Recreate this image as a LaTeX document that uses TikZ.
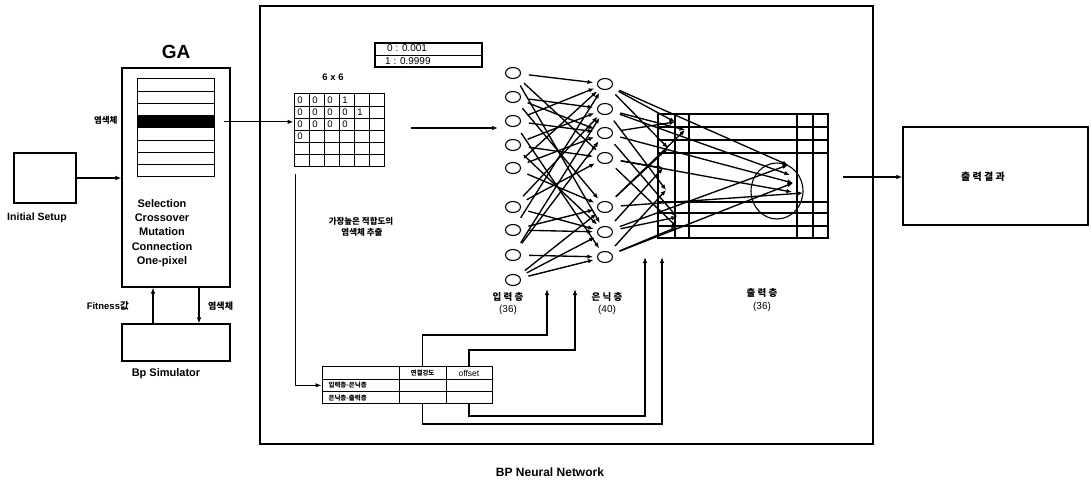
\documentclass[tikz,border=0pt]{standalone}
\usepackage{fontspec}
\setmainfont{Liberation Sans}
\newfontfamily\kr{Noto Sans CJK KR}
\usetikzlibrary{arrows.meta,shapes.geometric}

\begin{document}
\begin{tikzpicture}[
  x=1pt, y=-1pt,
  box/.style={draw, line width=1.2pt, inner sep=0pt},
  stripe/.style={draw, line width=1pt, minimum width=77pt, minimum height=12.25pt, inner sep=0pt},
  neuron/.style={ellipse, draw, line width=1.1pt, minimum width=15pt, minimum height=11pt, inner sep=0pt},
  cell/.style={draw, line width=1pt, minimum height=12.3pt, inner sep=0pt},
  conn/.style={line width=1.1pt, -{Latex[length=6pt,width=4.5pt]}},
  wire/.style={line width=1.35pt, -{Latex[length=5.5pt,width=4.5pt]}, shorten <=8pt},
  lbl/.style={font=\bfseries\fontsize{10.5}{12}\selectfont},
  klbl/.style={font=\kr\bfseries\fontsize{9.5}{11}\selectfont},
  tlbl/.style={font=\fontsize{10}{11}\selectfont, inner sep=0pt}
]

  \useasboundingbox (0,0) rectangle (1091,481);

  % Bloque GA
  \node[font=\bfseries\fontsize{19}{20}\selectfont] (gatitle) at (176,52) {GA};
  \node[box, minimum width=108pt, minimum height=219pt] (ga) at (176,177.5) {};
  \foreach \k in {0,...,7}
    \node[stripe] (st\k) at (175.5,{85.1+12.25*\k}) {};
  \node[stripe, fill=black] (best) at (st3) {};
  \node[lbl, font=\bfseries\fontsize{11}{14.3}\selectfont, align=center] (ops) at (162,233)
    {Selection\\Crossover\\Mutation\\Connection\\One-pixel};
  \node[klbl, font=\kr\bfseries\fontsize{8.5}{10}\selectfont, anchor=east] (chrom) at (121,120) {염색체};

  \node[box, minimum width=62pt, minimum height=50pt] (init) at (45,178) {};
  \node[lbl] (initlbl) at (37,218) {Initial Setup};
  \draw[conn] (init) -- (init -| ga.west);

  \node[box, minimum width=108pt, minimum height=37pt] (sim) at (176,342.5) {};
  \node[lbl, font=\bfseries\fontsize{11}{12}\selectfont] (simlbl) at (166,374) {Bp Simulator};
  \draw[conn] ([xshift=-23pt]sim.north) -- ([xshift=-23pt]ga.south);
  \draw[conn] ([xshift=23pt]ga.south) -- ([xshift=23pt]sim.north);
  \node[lbl, font=\bfseries\fontsize{9.5}{11}\selectfont, anchor=east, inner sep=0pt] (fit) at (129,306) {Fitness\kr 값};
  \node[klbl, font=\kr\bfseries\fontsize{9}{10}\selectfont, anchor=west, inner sep=0pt] (chrom2) at (208,306) {염색체};

  % Red BP
  \node[box, line width=1.3pt, minimum width=613pt, minimum height=438pt] (bp) at (566.5,225) {};
  \node[lbl, font=\bfseries\fontsize{12}{13}\selectfont] (bplbl) at (550,472) {BP Neural Network};

  \node[box, minimum width=107pt, minimum height=24pt] (legend) at (428.5,55) {};
  \draw[line width=0.7pt] (legend.west) -- (legend.east);
  \node[tlbl, anchor=west] (l0) at (387,48.5) {0 : 0.001};
  \node[tlbl, anchor=west] (l1) at (385,61.5) {1 : 0.9999};

  \node[lbl, font=\bfseries\fontsize{9.5}{11}\selectfont] (size) at (333,77) {6 x 6};
  \node[draw, line width=1pt, minimum width=90pt, minimum height=73pt, inner sep=0pt] (grid) at (339,130.5) {};
  \foreach \c in {1,...,5}
    \draw[line width=0.9pt] ({294+15*\c},94) -- ({294+15*\c},167);
  \foreach \r in {1,...,5}
    \draw[line width=0.9pt] (294,{94+73/6*\r}) -- (384,{94+73/6*\r});
  \foreach \c/\r/\v in {1/1/0,2/1/0,3/1/0,4/1/1,1/2/0,2/2/0,3/2/0,4/2/0,5/2/1,1/3/0,2/3/0,3/3/0,4/3/0,1/4/0}
    \node[tlbl, font=\fontsize{9.5}{10}\selectfont] at ({294+15*(\c-1)+6},{94+73/6*(\r-0.5)}) {\v};
  \draw[conn, shorten <=9pt] (best.east) -- (best.east -| grid.west);
  \draw[conn, shorten <=26pt, shorten >=15pt] ([yshift=2.5pt]grid.east) -- ([yshift=2.5pt]grid.east -| 513,0);

  \node[klbl, font=\kr\bfseries\fontsize{8.5}{10.5}\selectfont, align=center] (pick) at (361,227)
    {가장높은 적합도의\\ \ 염색체 추출};

  % Capas
  \foreach \n/\y in {1/73,2/97,3/121,4/145,5/168,6/207,7/230,8/255,9/280}
    \node[neuron] (i\n) at (513,\y) {};
  \foreach \n/\y in {1/84,2/109,3/133,4/158,5/207,6/232,7/257}
    \node[neuron] (h\n) at (605,\y) {};

  \foreach \a/\b in {1/1,1/4,1/6,2/2,2/3,2/5,3/1,3/3,3/7,4/2,4/4,4/6,5/1,5/3,5/5,
                     6/2,6/4,6/6,7/1,7/5,7/6,8/3,8/7,8/2,9/5,9/6,9/7}
    \draw[wire, shorten >=4pt] (i\a) -- (h\b);

  \node[draw, line width=2.2pt, minimum width=170pt, minimum height=124pt, inner sep=0pt] (outgrid) at (743,176) {};
  \foreach \x in {675,689,797,813}
    \draw[line width=1.3pt] (\x,114) -- (\x,238);
  \foreach \y in {127,140,153,202,213,226}
    \draw[line width=1.3pt] (658,\y) -- (828,\y);
  \draw[line width=1.1pt] (777,191) ellipse [x radius=26, y radius=28];

  \coordinate (o1) at (675,122);
  \coordinate (o2) at (685,130);
  \coordinate (o3) at (668,148);
  \coordinate (o4) at (663,168);
  \coordinate (o5) at (666,190);
  \coordinate (o6) at (677,217);
  \coordinate (o7) at (677,227);
  \coordinate (e1) at (788,165);
  \coordinate (e2) at (790,175);
  \coordinate (e3) at (793,183);
  \coordinate (e4) at (792,192);
  \coordinate (e5) at (803,193);
  \foreach \a/\b in {1/o1,1/o3,1/e1,2/o2,2/e2,2/o5,3/o1,3/e3,3/o6,4/o4,4/e4,4/o7,
                     5/o2,5/e5,5/o3,6/o6,6/e1,6/o4,7/o7,7/e3,7/o5}
    \draw[wire] (h\a) -- (\b);

  \node[klbl] (inlbl) at (508,297) {입 력 층};
  \node[tlbl] (innum) at (508,310) {(36)};
  \node[klbl] (hidlbl) at (607,297) {은 닉 층};
  \node[tlbl] (hidnum) at (607,310) {(40)};
  \node[klbl] (outlbl) at (762,293) {출 력 층};
  \node[tlbl] (outnum) at (762,307) {(36)};

  % Resultado
  \coordinate (outsrc) at (843,177);
  \node[box, minimum width=185pt, minimum height=98pt] (res) at (995.5,176) {};
  \node[klbl, font=\kr\bfseries\fontsize{10}{11}\selectfont] (reslbl) at (983,177) {출 력 결 과};
  \draw[conn] (outsrc) -- (outsrc -| res.west);

  % Tabla de pesos
  \node[cell, minimum width=77pt] (c11) at (360.5,373) {};
  \node[cell, minimum width=47pt, font=\kr\bfseries\fontsize{6.5}{7}\selectfont] (c12) at (422.5,373) {연결강도};
  \node[cell, minimum width=46pt, font=\fontsize{8.5}{9}\selectfont] (c13) at (469,373) {offset};
  \node[cell, minimum width=77pt] (c21) at (360.5,385.3) {};
  \node[cell, minimum width=47pt] (c22) at (422.5,385.3) {};
  \node[cell, minimum width=46pt] (c23) at (469,385.3) {};
  \node[cell, minimum width=77pt] (c31) at (360.5,397.6) {};
  \node[cell, minimum width=47pt] (c32) at (422.5,397.6) {};
  \node[cell, minimum width=46pt] (c33) at (469,397.6) {};
  \node[klbl, font=\kr\bfseries\fontsize{6.5}{7}\selectfont, anchor=west] (row1) at (325,385.3) {입력층-은닉층};
  \node[klbl, font=\kr\bfseries\fontsize{6.5}{7}\selectfont, anchor=west] (row2) at (325,397.6) {은닉층-출력층};

  \draw[conn, shorten <=7pt] ([xshift=2pt]grid.south west) |- (c21.west);

  \coordinate (tipA) at (547,289);
  \coordinate (tipB) at (575,289);
  \coordinate (tipC) at (645,257);
  \coordinate (tipD) at (662,257);
  \draw[conn] (c12.north) -- (c12.north |- 0,335) -| (tipA);
  \draw[conn] (c13.north) -- (c13.north |- 0,350) -| (tipB);
  \draw[conn] (c33.south) -- (c33.south |- 0,416) -| (tipC);
  \draw[conn] (c32.south) -- (c32.south |- 0,424) -| (tipD);

\end{tikzpicture}
\end{document}
